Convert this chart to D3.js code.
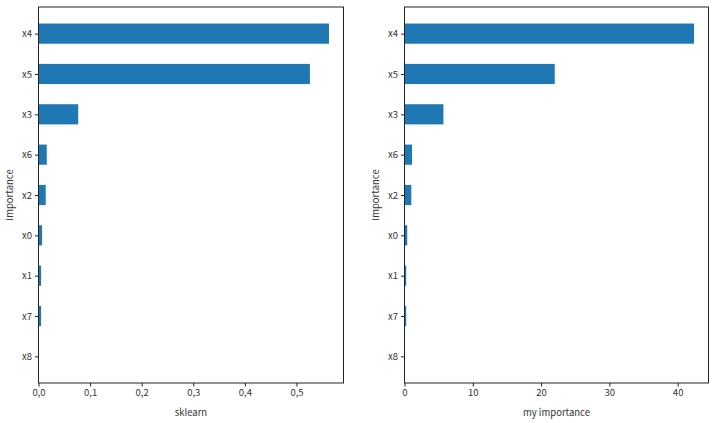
<!DOCTYPE html>
<html><head><meta charset="utf-8">
<script src="https://cdn.jsdelivr.net/npm/d3@7"></script>
<style>body{margin:0;background:#fff}text{font-family:"Noto Sans CJK KR","Noto Sans",sans-serif}</style>
</head><body><div id="chart"></div>
<script>
// Feature order top to bottom
const features = ["x4", "x5", "x3", "x6", "x2", "x0", "x1", "x7", "x8"];
const sklearnVals = [0.563, 0.526, 0.077, 0.016, 0.014, 0.007, 0.005, 0.005, 0.0];
const myVals = [42.4, 22.0, 5.7, 1.1, 1.0, 0.4, 0.25, 0.25, 0.0];
const sklearnTicks = [0, 0.1, 0.2, 0.3, 0.4, 0.5];
const myTicks = [0, 10, 20, 30, 40];

const svg = d3.select("#chart").append("svg").attr("width", 715).attr("height", 423);

function panel(left, right, vals, ticks, fmt, xlabel) {
    const top = 7, bottom = 383;
    const maxV = d3.max(vals);
    const x = d3.scaleLinear().domain([0, maxV * 1.05]).range([left, right]);
    const y = d3.scaleLinear().domain([-0.66, features.length - 1 + 0.66]).range([top, bottom]);
    const g = svg.append("g");

    g.selectAll("rect.bar").data(vals).enter().append("rect")
        .attr("class", "bar")
        .attr("x", x(0))
        .attr("y", (d, i) => y(i - 0.25))
        .attr("width", d => x(d) - x(0))
        .attr("height", y(0.25) - y(-0.25))
        .attr("fill", "#1f77b4");

    const xAxis = g.append("g").attr("transform", `translate(0,${bottom})`)
        .call(d3.axisBottom(x).tickValues(ticks).tickFormat(fmt).tickSize(3.5).tickPadding(3));
    const yAxis = g.append("g").attr("transform", `translate(${left},0)`)
        .call(d3.axisLeft(y).tickValues(d3.range(features.length)).tickFormat(i => features[i]).tickSize(3.5).tickPadding(3));
    [xAxis, yAxis].forEach(a => {
        a.select(".domain").remove();
        a.selectAll("text").attr("font-size", 9.5).attr("fill", "#333");
        a.selectAll("line").attr("stroke", "#222");
    });

    g.append("rect").attr("x", left).attr("y", top).attr("width", right - left).attr("height", bottom - top)
        .attr("fill", "none").attr("stroke", "#222").attr("stroke-width", 1);

    g.append("text").attr("x", (left + right) / 2).attr("y", 416).attr("text-anchor", "middle")
        .attr("font-size", 9.5).attr("fill", "#333").text(xlabel);
    g.append("text").attr("transform", `translate(${left - 26},${(top + bottom) / 2}) rotate(-90)`)
        .attr("text-anchor", "middle").attr("font-size", 9.5).attr("fill", "#333").text("Importance");
}

panel(38.5, 343.5, sklearnVals, sklearnTicks, d => d.toFixed(1).replace(".", ","), "sklearn");
panel(404.5, 708.5, myVals, myTicks, d3.format("d"), "my importance");
</script></body></html>
